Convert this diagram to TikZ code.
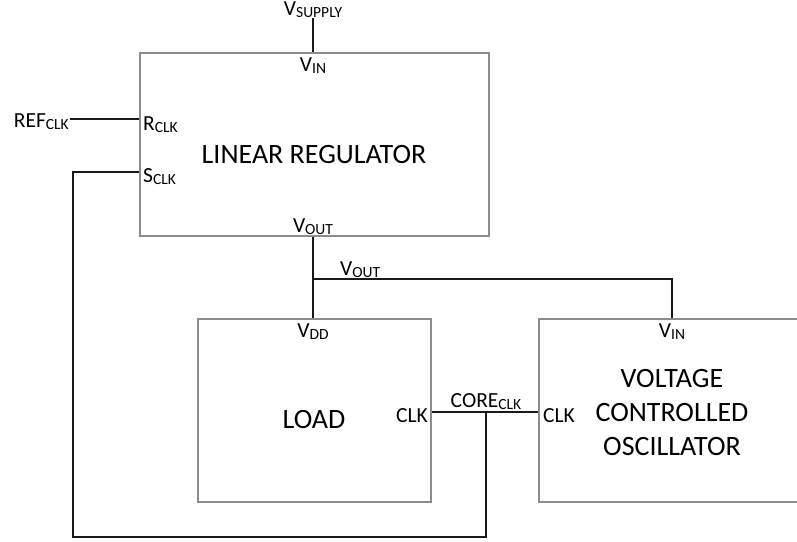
\documentclass[tikz,border=0pt]{standalone}
\usepackage{fontspec}
\setmainfont{Carlito}
\usetikzlibrary{positioning}
\definecolor{box-gray}{RGB}{140,140,140}
\definecolor{wire-black}{RGB}{25,25,25}
\newcommand{\pinsub}[1]{\raisebox{-2pt}{\fontsize{15.5}{15.5}\selectfont #1}}

\begin{document}
\begin{tikzpicture}[x=1pt,y=-1pt,
    blk/.style={draw=box-gray, line width=1.6pt, inner sep=0pt},
    title/.style={font=\fontsize{28}{34}\selectfont, align=center},
    pin/.style={font=\fontsize{21.5}{22}\selectfont, inner sep=1pt},
    wire/.style={draw=wire-black, line width=2pt}
  ]
  \useasboundingbox (0,0) rectangle (797,541);
  % blocks
  \node[blk, minimum width=349pt, minimum height=183pt] (reg) at (314.5,144.5) {};
  \node[blk, minimum width=233pt, minimum height=183pt] (load) at (314.5,410.5) {};
  \node[blk, minimum width=280pt, minimum height=183pt] (vco) at (679,410.5) {};
  \node[title, anchor=base] (regname) at (314,163) {LINEAR REGULATOR};
  \node[title, anchor=base] (loadname) at (314,428) {LOAD};
  \node[title] (vconame) at (672,413) {VOLTAGE\\CONTROLLED\\OSCILLATOR};
  % pin labels
  \node[pin, anchor=base] (vsupply) at (313,15) {V\pinsub{SUPPLY}};
  \node[pin, anchor=base] (regvin) at (313,71) {V\pinsub{IN}};
  \node[pin, anchor=base east] (refclk) at (70,127) {REF\pinsub{CLK}};
  \node[pin, anchor=base west] (rclk) at (142,130) {R\pinsub{CLK}};
  \node[pin, anchor=base west] (sclk) at (142,182) {S\pinsub{CLK}};
  \node[pin, anchor=base] (regvout) at (313,232) {V\pinsub{OUT}};
  \node[pin, anchor=base west] (vout) at (339,275) {V\pinsub{OUT}};
  \node[pin, anchor=base] (vdd) at (313,337) {V\pinsub{DD}};
  \node[pin, anchor=base east] (loadclk) at (429,422) {CLK};
  \node[pin, anchor=base] (coreclk) at (486,407) {CORE\pinsub{CLK}};
  \node[pin, anchor=base west] (vcoclk) at (542,422) {CLK};
  \node[pin, anchor=base] (vcovin) at (672,337) {V\pinsub{IN}};
  % wires
  \coordinate (split) at (313,279);
  \coordinate (tap) at (486,412);
  \draw[wire] (vsupply.south) -- (vsupply.south |- reg.north);
  \draw[wire] (refclk.east |- 0,119) -- (reg.west |- 0,119);
  \draw[wire] (reg.west |- 0,172) -| (73,537) -| (tap);
  \draw[wire] (load.east |- tap) -- (vco.west |- tap);
  \draw[wire] (regvout.south |- reg.south) -- (regvout.south |- load.north);
  \draw[wire] (split) -| (vcovin |- vco.north);
\end{tikzpicture}
\end{document}
